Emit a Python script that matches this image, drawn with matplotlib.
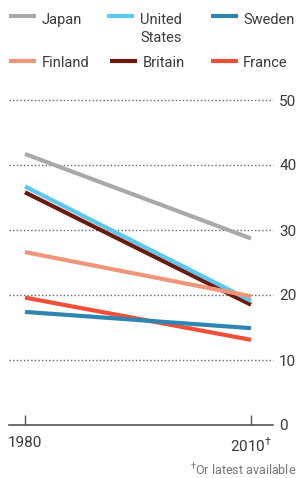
import matplotlib.pyplot as plt
from matplotlib.lines import Line2D

# data
years = [1980, 2010]
countries = ['France', 'Sweden', 'Japan', 'Britain', 'United States', 'Finland']
values = {
    'Japan': [41.7, 28.7],
    'United States': [36.7, 19.1],
    'Sweden': [17.4, 14.9],
    'Finland': [26.6, 19.8],
    'Britain': [35.8, 18.5],
    'France': [19.6, 13.1],
}
colors = {
    'Japan': '#a7a9ac',
    'United States': '#5bc8f0',
    'Sweden': '#2e86b0',
    'Finland': '#f0957a',
    'Britain': '#6b1a0e',
    'France': '#f04e37',
}
yticks = [0, 10, 20, 30, 40, 50]

plt.rcParams['font.family'] = ['Roboto', 'DejaVu Sans']
plt.rcParams['mathtext.fontset'] = 'custom'
plt.rcParams['mathtext.rm'] = 'Roboto'
txt = '#3a3a3a'
fs = 10.5

W, H = 299, 478
fig = plt.figure(figsize=(W / 100, H / 100), dpi=100)
ax = fig.add_axes([9 / W, (H - 425) / H, 264 / W, 325 / H])

for c in countries:
    ax.plot(years, values[c], color=colors[c], lw=3, solid_capstyle='butt')

ax.set_xlim(1977.88, 2012.92)
ax.set_ylim(0, 50)

for v in yticks[1:]:
    ax.axhline(v, color='#666666', lw=1, ls=(0, (1, 1.6)), zorder=0, clip_on=False)

ax.yaxis.tick_right()
ax.set_yticks(yticks)
ax.tick_params(axis='y', length=0, pad=4.5, labelsize=fs + 0.5, labelcolor=txt)
ax.set_xticks(years)
ax.set_xticklabels(['1980', '2010$^{\\dagger}$'])
ax.tick_params(axis='x', direction='in', length=7, width=1, color='#555555',
               pad=8, labelsize=fs + 0.5, labelcolor=txt)

for s in ['left', 'right', 'top']:
    ax.spines[s].set_visible(False)
ax.spines['bottom'].set_color('#555555')
ax.spines['bottom'].set_linewidth(1.2)

# legend laid out by hand
legend = [
    ('Japan', 9, 16, 42, 24),
    ('United\nStates', 107, 16, 140, 24),
    ('Sweden', 211, 16, 243, 24),
    ('Finland', 9, 61, 42, 67),
    ('Britain', 110, 61, 143, 67),
    ('France', 211, 61, 243, 67),
]
for lab, lx, ly, tx, ty in legend:
    key = lab.replace('\n', ' ')
    fig.add_artist(Line2D([lx / W, (lx + 27) / W], [1 - ly / H, 1 - ly / H],
                          color=colors[key], lw=3, solid_capstyle='butt'))
    lines = lab.split('\n')
    for i, t in enumerate(lines):
        fig.text(tx / W, 1 - (ty + 18 * i) / H, t, fontsize=fs, color=txt, va='baseline')

fig.text(296 / W, 1 - 475 / H, '$^{\\dagger}$Or latest available', fontsize=9,
         color='#777777', ha='right', va='baseline')

fig.savefig('out.png', dpi=100)
